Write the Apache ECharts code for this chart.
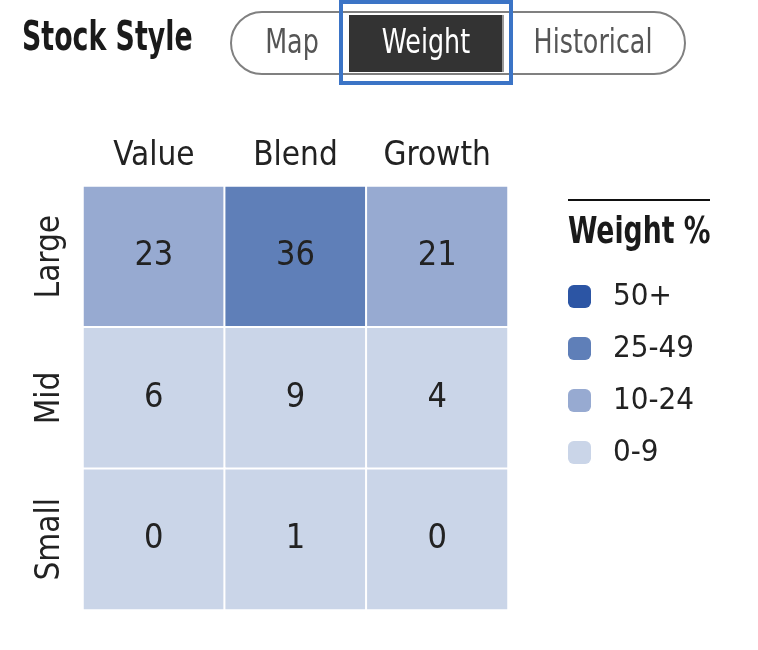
<!DOCTYPE html>
<html><head><meta charset="utf-8">
<script src="https://cdn.jsdelivr.net/npm/echarts@6/dist/echarts.min.js"></script>
<style>html,body{margin:0;padding:0;background:#fff}#c{width:758px;height:650px}</style>
</head><body><div id="c"></div>
<script>
const styles = ['Value', 'Blend', 'Growth'];
const sizes = ['Large', 'Mid', 'Small'];
const weights = [
  [23, 36, 21],
  [6, 9, 4],
  [0, 1, 0]
];
const legendLabels = ['50+', '25-49', '10-24', '0-9'];
const tabs = ['Map', 'Weight', 'Historical'];

const FONT = "'DejaVu Sans Condensed','Liberation Sans Narrow',sans-serif";
const data = [];
sizes.forEach((s, r) => styles.forEach((st, c) => data.push([c, r, weights[r][c]])));

const chart = echarts.init(document.getElementById('c'), null, {renderer: 'canvas'});
chart.setOption({
  animation: false,
  textStyle: {fontFamily: FONT},
  grid: {left: 83, top: 186, width: 425, height: 424},
  xAxis: {
    type: 'category', data: styles, position: 'top',
    axisLine: {show: false}, axisTick: {show: false}, splitLine: {show: false},
    axisLabel: {interval: 0, fontFamily: FONT, fontSize: 33, color: '#222', margin: 13}
  },
  yAxis: {
    type: 'category', data: sizes, inverse: true,
    axisLine: {show: false}, axisTick: {show: false}, splitLine: {show: false},
    axisLabel: {interval: 0, fontFamily: FONT, fontSize: 33, color: '#222', rotate: 90, margin: 16}
  },
  visualMap: {
    type: 'piecewise', dimension: 2, orient: 'vertical', align: 'left',
    left: 568, top: 281, padding: 0,
    itemWidth: 23, itemHeight: 23, itemGap: 21, textGap: 22,
    itemSymbol: 'roundRect', selectedMode: false,
    textStyle: {fontFamily: FONT, fontSize: 31, color: '#222'},
    pieces: [
      {min: 50, label: legendLabels[0], color: '#2c55a4'},
      {min: 25, max: 49.999, label: legendLabels[1], color: '#5f7fb8'},
      {min: 10, max: 24.999, label: legendLabels[2], color: '#97aad1'},
      {min: 0, max: 9.999, label: legendLabels[3], color: '#cad5e8'}
    ]
  },
  series: [{
    type: 'heatmap', data: data,
    itemStyle: {borderColor: '#fff', borderWidth: 2},
    label: {show: true, fontFamily: FONT, fontSize: 34, color: '#222'},
    emphasis: {disabled: true}
  }],
  graphic: [
    {type: 'text', x: 22, y: 20, scaleX: 0.745, style: {text: 'Stock Style', font: "bold 40px " + FONT, fill: '#1a1a1a'}},
    {type: 'rect', shape: {x: 231, y: 12, width: 454, height: 62, r: 31}, style: {fill: '#fff', stroke: '#808080', lineWidth: 2}},
    {type: 'rect', shape: {x: 349, y: 15, width: 153, height: 57}, style: {fill: '#333333'}},
    {type: 'line', shape: {x1: 503, y1: 15, x2: 503, y2: 72}, style: {stroke: '#999', lineWidth: 2}},
    {type: 'rect', shape: {x: 341, y: 2, width: 170, height: 81}, style: {fill: 'none', stroke: '#3b74c6', lineWidth: 4}},
    {type: 'text', x: 292, y: 44, scaleX: 0.83, style: {text: tabs[0], font: "34px " + FONT, fill: '#555', align: 'center', verticalAlign: 'middle'}},
    {type: 'text', x: 426, y: 44, scaleX: 0.83, style: {text: tabs[1], font: "34px " + FONT, fill: '#fff', align: 'center', verticalAlign: 'middle'}},
    {type: 'text', x: 593, y: 44, scaleX: 0.83, style: {text: tabs[2], font: "34px " + FONT, fill: '#555', align: 'center', verticalAlign: 'middle'}},
    {type: 'line', shape: {x1: 568, y1: 200, x2: 710, y2: 200}, style: {stroke: '#111', lineWidth: 2}},
    {type: 'text', x: 568, y: 214, scaleX: 0.78, style: {text: 'Weight %', font: "bold 38px " + FONT, fill: '#1a1a1a'}}
  ]
});
</script></body></html>
